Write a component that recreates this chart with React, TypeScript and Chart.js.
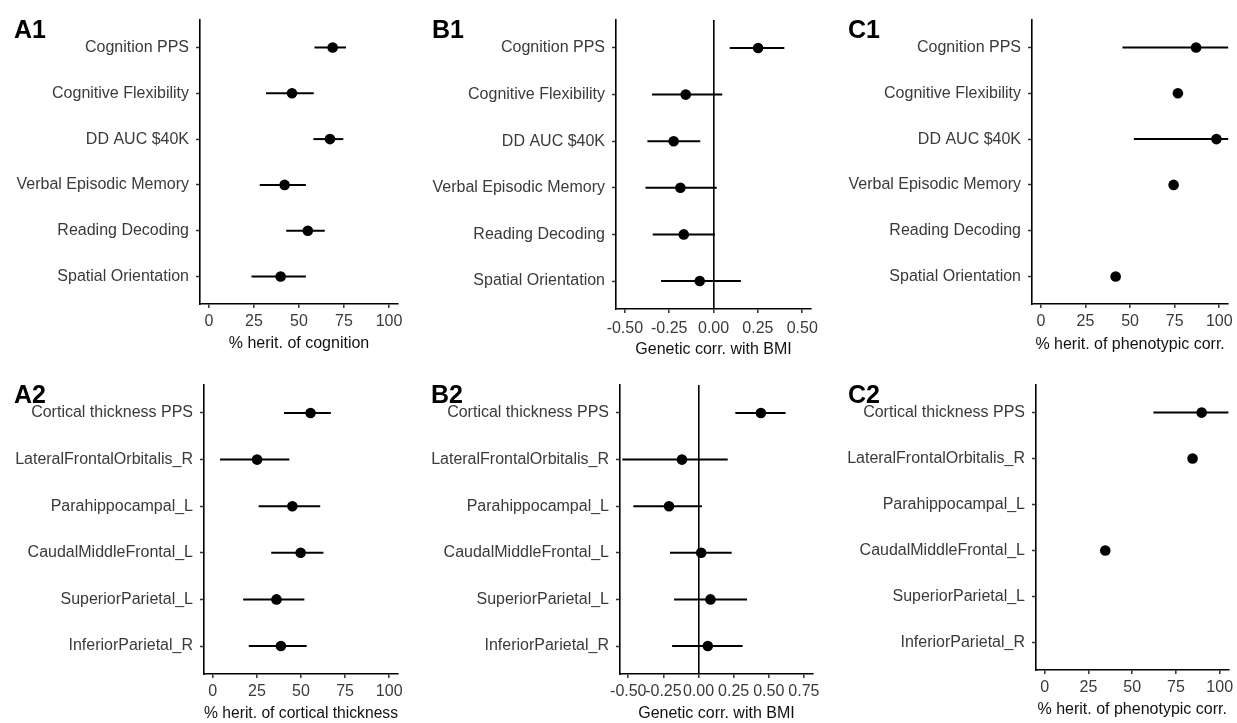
import React, { useEffect, useRef } from "react";
import { Chart, registerables } from "chart.js";

Chart.register(...registerables);

// ---------- data ----------
const cognitionCategories = [
  "Cognition PPS",
  "Cognitive Flexibility",
  "DD AUC $40K",
  "Verbal Episodic Memory",
  "Reading Decoding",
  "Spatial Orientation",
];
const corticalCategories = [
  "Cortical thickness PPS",
  "LateralFrontalOrbitalis_R",
  "Parahippocampal_L",
  "CaudalMiddleFrontal_L",
  "SuperiorParietal_L",
  "InferiorParietal_R",
];

const a1Estimate = [68.7, 46.1, 67.2, 42.0, 54.9, 39.8];
const a1Lower = [58.6, 31.7, 58.0, 28.2, 42.9, 23.6];
const a1Upper = [76.1, 58.2, 74.6, 53.8, 64.3, 53.8];

const b1Estimate = [0.251, -0.157, -0.225, -0.187, -0.168, -0.078];
const b1Lower = [0.091, -0.347, -0.373, -0.384, -0.343, -0.296];
const b1Upper = [0.399, 0.049, -0.075, 0.018, 0.008, 0.154];

const c1Estimate = [87.0, 76.8, 98.4, 74.4, null, 41.9];
const c1Lower = [45.7, null, 52.1, null, null, null];
const c1Upper = [120, null, 115, null, null, null];

const a2Estimate = [55.4, 25.1, 45.1, 49.8, 36.1, 38.6];
const a2Lower = [40.4, 4.1, 26.0, 33.1, 17.2, 20.4];
const a2Upper = [66.9, 43.4, 60.9, 62.7, 51.9, 53.2];

const b2Estimate = [0.444, -0.118, -0.21, 0.019, 0.085, 0.066];
const b2Lower = [0.262, -0.542, -0.464, -0.203, -0.174, -0.188];
const b2Upper = [0.62, 0.208, 0.024, 0.236, 0.345, 0.314];

const c2Estimate = [89.7, 84.5, null, 34.6, null, null];
const c2Lower = [62.1, null, null, null, null, null];
const c2Upper = [120, null, null, null, null, null];

const percentTicks = [0, 25, 50, 75, 100];
const corrTicksRow1 = [-0.5, -0.25, 0, 0.25, 0.5];
const corrTicksRow2 = [-0.5, -0.25, 0, 0.25, 0.5, 0.75];

// ---------- layout / style ----------
const FONT = "'Liberation Sans', Arial, Helvetica, sans-serif";
const TICK_COLOR = "#3a3a3a";
const TITLE_COLOR = "#111111";

type Panel = {
  label: string;
  categories: string[];
  est: (number | null)[];
  lo: (number | null)[];
  hi: (number | null)[];
  ticks: number[];
  decimals: number;
  xMin: number;
  xMax: number;
  xTitle: string;
  zeroLine: boolean;
  box: { left: number; top: number; width: number; height: number };
  area: { l: number; t: number; r: number; b: number };
  tickPad: number;
  titlePadBottom: number;
  labelPos: { left: number; top: number };
};

const panels: Panel[] = [
  {
    label: "A1", categories: cognitionCategories, est: a1Estimate, lo: a1Lower, hi: a1Upper,
    ticks: percentTicks, decimals: 0, xMin: -5, xMax: 105, xTitle: "% herit. of cognition", zeroLine: false,
    box: { left: 0, top: 0, width: 412, height: 360 }, area: { l: 200, t: 20, r: 398, b: 304 },
    tickPad: 4.4, titlePadBottom: 6.4, labelPos: { left: 14, top: 16.7 },
  },
  {
    label: "B1", categories: cognitionCategories, est: b1Estimate, lo: b1Lower, hi: b1Upper,
    ticks: corrTicksRow1, decimals: 2, xMin: -0.55, xMax: 0.55, xTitle: "Genetic corr. with BMI", zeroLine: true,
    box: { left: 412, top: 0, width: 412, height: 360 }, area: { l: 616, t: 20, r: 814, b: 309 },
    tickPad: 5.7, titlePadBottom: 0.4, labelPos: { left: 432, top: 16.7 },
  },
  {
    label: "C1", categories: cognitionCategories, est: c1Estimate, lo: c1Lower, hi: c1Upper,
    ticks: percentTicks, decimals: 0, xMin: -5, xMax: 105, xTitle: "% herit. of phenotypic corr.", zeroLine: false,
    box: { left: 824, top: 0, width: 413, height: 360 }, area: { l: 1032, t: 20, r: 1231, b: 304 },
    tickPad: 4.1, titlePadBottom: 5.4, labelPos: { left: 848, top: 16.7 },
  },
  {
    label: "A2", categories: corticalCategories, est: a2Estimate, lo: a2Lower, hi: a2Upper,
    ticks: percentTicks, decimals: 0, xMin: -5, xMax: 105, xTitle: "% herit. of cortical thickness", zeroLine: false,
    box: { left: 0, top: 360, width: 412, height: 363 }, area: { l: 204, t: 385, r: 398, b: 674 },
    tickPad: 4.1, titlePadBottom: 0.2, labelPos: { left: 14, top: 381.7 },
  },
  {
    label: "B2", categories: corticalCategories, est: b2Estimate, lo: b2Lower, hi: b2Upper,
    ticks: corrTicksRow2, decimals: 2, xMin: -0.559, xMax: 0.814, xTitle: "Genetic corr. with BMI", zeroLine: true,
    box: { left: 412, top: 360, width: 412, height: 363 }, area: { l: 620, t: 385, r: 814, b: 674 },
    tickPad: 4.1, titlePadBottom: 0, labelPos: { left: 431, top: 381.7 },
  },
  {
    label: "C2", categories: corticalCategories, est: c2Estimate, lo: c2Lower, hi: c2Upper,
    ticks: percentTicks, decimals: 0, xMin: -5, xMax: 105, xTitle: "% herit. of phenotypic corr.", zeroLine: false,
    box: { left: 824, top: 360, width: 413, height: 363 }, area: { l: 1036, t: 385, r: 1231, b: 670 },
    tickPad: 3.7, titlePadBottom: 3.4, labelPos: { left: 848, top: 381.7 },
  },
];

function ForestPanel({ p }: { p: Panel }) {
  const ref = useRef<HTMLCanvasElement | null>(null);

  useEffect(() => {
    if (!ref.current) return;
    const datasets: any[] = [];
    p.categories.forEach((_, i) => {
      const lo = p.lo[i];
      const hi = p.hi[i];
      if (lo != null && hi != null) {
        datasets.push({
          data: [
            { x: lo, y: i + 1 },
            { x: hi, y: i + 1 },
          ],
          showLine: true,
          borderColor: "#000",
          borderWidth: 2,
          pointRadius: 0,
          pointHoverRadius: 0,
          clip: 0,
        });
      }
    });
    const pts: any[] = [];
    p.est.forEach((v, i) => {
      if (v != null) pts.push({ x: v, y: i + 1 });
    });
    datasets.push({
      data: pts,
      showLine: false,
      pointRadius: 5.3,
      pointBackgroundColor: "#000",
      pointBorderColor: "#000",
      pointBorderWidth: 0,
      clip: false,
    });

    const xScaleHeight = p.box.top + p.box.height - p.area.b;
    const yScaleWidth = p.area.l - p.box.left;

    const chart = new Chart(ref.current, {
      type: "scatter",
      data: { datasets },
      options: {
        responsive: false,
        animation: false,
        events: [],
        layout: {
          padding: {
            left: 0,
            top: p.area.t - p.box.top,
            right: p.box.left + p.box.width - p.area.r,
            bottom: 0,
          },
        },
        plugins: {
          legend: { display: false },
          tooltip: { enabled: false },
          title: { display: false },
        },
        scales: {
          x: {
            type: "linear",
            min: p.xMin,
            max: p.xMax,
            afterBuildTicks: (s: any) => {
              s.ticks = p.ticks.map((v) => ({ value: v }));
            },
            afterFit: (s: any) => {
              s.height = xScaleHeight;
            },
            ticks: {
              autoSkip: false,
              maxRotation: 0,
              minRotation: 0,
              padding: p.tickPad,
              color: TICK_COLOR,
              font: { family: FONT, size: 16 },
              callback: (v: any) => Number(v).toFixed(p.decimals),
            },
            grid: {
              drawOnChartArea: p.zeroLine,
              drawTicks: true,
              tickLength: 4,
              tickWidth: 1.5,
              tickColor: "#333",
              lineWidth: 1.6,
              color: (ctx: any) =>
                ctx.tick && ctx.tick.value === 0 ? "#000" : "rgba(0,0,0,0)",
            },
            border: { display: true, color: "#000", width: 1.6 },
            title: {
              display: true,
              text: p.xTitle,
              color: TITLE_COLOR,
              font: { family: FONT, size: 16 },
              padding: { top: 0, bottom: p.titlePadBottom },
            },
          },
          y: {
            type: "linear",
            min: 0.4,
            max: 6.6,
            reverse: true,
            afterBuildTicks: (s: any) => {
              s.ticks = p.categories.map((_, i) => ({ value: i + 1 }));
            },
            afterFit: (s: any) => {
              s.width = yScaleWidth;
            },
            ticks: {
              autoSkip: false,
              padding: 7,
              color: TICK_COLOR,
              font: { family: FONT, size: 16 },
              callback: (v: any) => p.categories[Math.round(Number(v)) - 1],
            },
            grid: {
              drawOnChartArea: false,
              drawTicks: true,
              tickLength: 4,
              tickWidth: 1.5,
              tickColor: "#333",
            },
            border: { display: true, color: "#000", width: 1.6 },
          },
        },
      } as any,
    });
    return () => chart.destroy();
  }, [p]);

  return (
    <>
      <canvas
        ref={ref}
        width={p.box.width}
        height={p.box.height}
        style={{
          position: "absolute",
          left: p.box.left,
          top: p.box.top,
          width: p.box.width,
          height: p.box.height,
        }}
      />
      <div
        style={{
          position: "absolute",
          left: p.labelPos.left,
          top: p.labelPos.top,
          fontFamily: FONT,
          fontWeight: "bold",
          fontSize: 25,
          lineHeight: "25px",
          color: "#000",
          whiteSpace: "nowrap",
        }}
      >
        {p.label}
      </div>
    </>
  );
}

export default function App() {
  return (
    <div
      style={{
        position: "absolute",
        left: 0,
        top: 0,
        width: 1237,
        height: 723,
        background: "#fff",
        overflow: "hidden",
      }}
    >
      {panels.map((p) => (
        <ForestPanel key={p.label} p={p} />
      ))}
    </div>
  );
}
